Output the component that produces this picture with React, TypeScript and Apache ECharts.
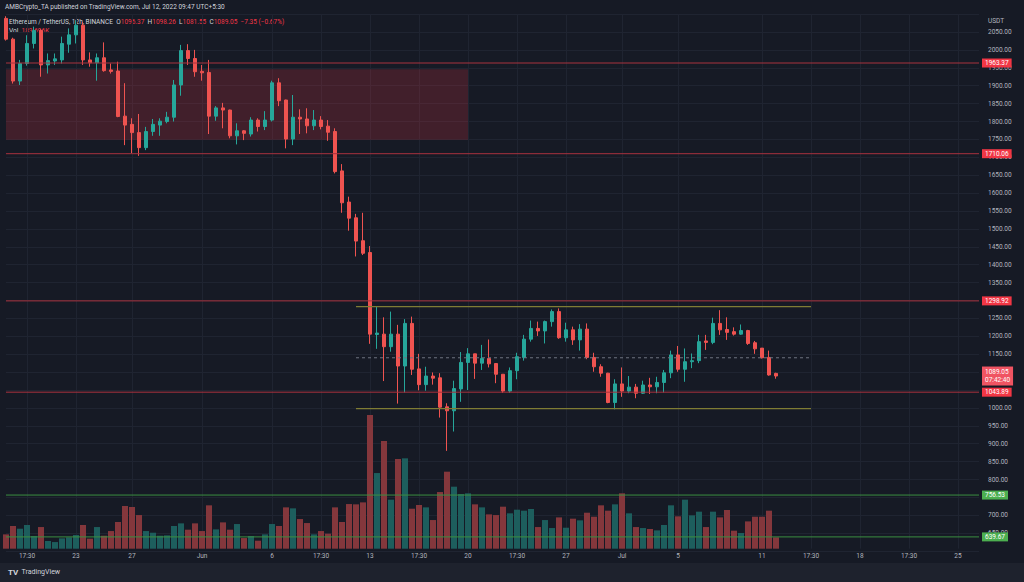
import React, { useEffect, useRef } from "react";
import * as echarts from "echarts";

// ---- axis categories (12h candles, IST) ----
const START_IST = Date.UTC(2022, 4, 18, 5, 30);
const HALF_DAY = 12 * 3600 * 1000;
const SLOT_COUNT = 140;
const categories: string[] = Array.from({ length: SLOT_COUNT }, (_, i) =>
  new Date(START_IST + i * HALF_DAY).toISOString().slice(0, 16)
);

// ---- tick labels ----
const tickDates = [
  "2022-05-19T17:30", "2022-05-23T05:30", "2022-05-27T05:30", "2022-06-01T05:30",
  "2022-06-06T05:30", "2022-06-09T17:30", "2022-06-13T05:30", "2022-06-16T17:30",
  "2022-06-20T05:30", "2022-06-23T17:30", "2022-06-27T05:30", "2022-07-01T05:30",
  "2022-07-05T05:30", "2022-07-11T05:30", "2022-07-14T17:30", "2022-07-18T05:30",
  "2022-07-21T17:30", "2022-07-25T05:30",
];
const tickTexts = [
  "17:30", "23", "27", "Jun", "6", "17:30", "13", "17:30", "20", "17:30", "27", "Jul",
  "5", "11", "17:30", "18", "17:30", "25",
];
// price ticks fully covered by level tags in the reference
const hiddenPriceTicks = [1300, 1050, 750];

// ---- OHLC ----
const opens = [
  2088, 2030, 1913, 1962, 2018, 2054, 1958, 1969, 1972, 2016,
  2042, 2069, 1972, 1964, 1978, 1944, 1941, 1815, 1792, 1769,
  1727, 1772, 1790, 1800, 1812, 1902, 1998, 1976, 1940, 1937,
  1815, 1838, 1832, 1760, 1774, 1765, 1804, 1786, 1804, 1908,
  1860, 1751, 1812, 1807, 1788, 1804, 1787, 1772, 1662, 1575,
  1531, 1467, 1434, 1205, 1206, 1171, 1206, 1117, 1236, 1109,
  1065, 1089, 1084, 1003, 992, 1053, 1127, 1151, 1125, 1138,
  1124, 1094, 1047, 1104, 1141, 1192, 1222, 1215, 1241, 1269,
  1196, 1218, 1190, 1220, 1141, 1115, 1097, 1015, 1067, 1047,
  1058, 1041, 1064, 1059, 1071, 1098, 1148, 1108, 1129, 1132,
  1187, 1183, 1236, 1219, 1213, 1206, 1216, 1182, 1167, 1141,
  1096.37,
];
const closes = [
  2030, 1913, 1962, 2018, 2054, 1958, 1970, 1975, 2018, 2042,
  2069, 1972, 1964, 1978, 1942, 1940, 1814, 1790, 1769, 1727,
  1772, 1792, 1801, 1812, 1902, 1998, 1976, 1939, 1936, 1815,
  1838, 1832, 1760, 1774, 1767, 1804, 1786, 1804, 1908, 1858,
  1751, 1812, 1807, 1788, 1804, 1786, 1770, 1660, 1573, 1530,
  1466, 1432, 1206, 1209, 1171, 1206, 1117, 1236, 1108, 1065,
  1089, 1083, 1002, 992, 1054, 1127, 1151, 1125, 1138, 1123,
  1094, 1047, 1104, 1143, 1192, 1222, 1215, 1241, 1269, 1196,
  1218, 1190, 1220, 1141, 1115, 1097, 1015, 1067, 1047, 1058,
  1041, 1064, 1059, 1071, 1098, 1148, 1108, 1129, 1132, 1185,
  1183, 1236, 1218, 1211, 1206, 1216, 1180, 1165, 1140, 1092,
  1089.05,
];
const lows = [
  2026, 1906, 1902, 1956, 2004, 1925, 1934, 1958, 1962, 1992,
  2018, 1958, 1953, 1914, 1939, 1934, 1812, 1734, 1711, 1704,
  1720, 1760, 1760, 1795, 1800, 1872, 1958, 1925, 1914, 1765,
  1802, 1781, 1753, 1736, 1748, 1758, 1772, 1776, 1800, 1843,
  1725, 1734, 1765, 1767, 1776, 1778, 1746, 1655, 1545, 1495,
  1423, 1427, 1179, 1165, 1075, 1157, 1012, 1043, 1092, 1049,
  1048, 1065, 973, 880, 934, 1017, 1050, 1081, 1106, 1113,
  1069, 1042, 1042, 1080, 1132, 1185, 1201, 1180, 1227, 1193,
  1185, 1176, 1160, 1136, 1101, 1087, 1013, 996, 1031, 1041,
  1027, 1039, 1039, 1041, 1043, 1083, 1101, 1073, 1111, 1125,
  1162, 1178, 1204, 1190, 1202, 1204, 1176, 1151, 1138, 1090,
  1081.55,
];
const highs = [
  2094, 2034, 1972, 2041, 2065, 2058, 1990, 1990, 2037, 2060,
  2083, 2078, 1993, 1990, 2021, 1962, 1967, 1907, 1809, 1821,
  1785, 1807, 1809, 1827, 1916, 2014, 2016, 2000, 1958, 1972,
  1843, 1852, 1833, 1795, 1776, 1812, 1809, 1829, 1914, 1921,
  1861, 1874, 1834, 1837, 1832, 1815, 1804, 1781, 1681, 1590,
  1542, 1545, 1452, 1282, 1253, 1269, 1232, 1248, 1255, 1151,
  1115, 1099, 1097, 1013, 1076, 1156, 1167, 1151, 1176, 1191,
  1125, 1094, 1113, 1154, 1204, 1244, 1241, 1244, 1275, 1278,
  1238, 1227, 1234, 1236, 1154, 1122, 1098, 1080, 1113, 1089,
  1067, 1076, 1084, 1087, 1106, 1160, 1173, 1166, 1152, 1204,
  1204, 1252, 1273, 1253, 1225, 1233, 1218, 1187, 1167, 1160,
  1098.26,
];
// volume in thousands
const volumes = [
  233, 369, 325, 385, 206, 352, 125, 108, 168, 184,
  222, 385, 163, 352, 211, 287, 434, 694, 678, 547,
  287, 260, 211, 217, 369, 412, 309, 412, 287, 705,
  314, 428, 309, 401, 173, 206, 130, 233, 401, 369,
  672, 656, 482, 417, 233, 287, 244, 672, 434, 726,
  721, 753, 2173, 1230, 1751, 797, 1458, 1469, 650, 710,
  672, 466, 921, 1252, 1008, 889, 900, 721, 672, 558,
  547, 683, 575, 634, 618, 645, 352, 466, 336, 509,
  341, 488, 461, 585, 520, 705, 618, 721, 900, 575,
  352, 336, 320, 298, 385, 705, 526, 797, 542, 602,
  352, 602, 509, 629, 293, 255, 444, 520, 520, 618,
  184,
];

// ---- levels ----
const resistanceLevels = [1963.37, 1710.06, 1298.92, 1043.89];
const supportLevels = [756.53, 639.67];
const zoneTop = 1946;
const zoneBottom = 1749;
const zoneStart = "2022-05-18T05:30";
const zoneEnd = "2022-06-20T05:30";
const rangeTop = 1283;
const rangeMid = 1140;
const rangeBottom = 998;
const rangeStart = "2022-06-12T05:30";
const rangeEnd = "2022-07-14T17:30";
const lastPrice = 1089.05;
const countdown = "07:42:40";

const UP = "#26a69a";
const DOWN = "#ef5350";
const UP_VOL = "#1d5e5d";
const DOWN_VOL = "#84373c";
const FONT = "Roboto, 'Noto Sans', sans-serif";
const TXT = "#b2b5be";
const GRIDC = "#1f2431";

export default function App() {
  const ref = useRef<HTMLDivElement>(null);
  useEffect(() => {
    if (!ref.current) return;
    const chart = echarts.init(ref.current, null, { renderer: "svg" });
    const tickMap: Record<string, string> = {};
    tickDates.forEach((d, i) => (tickMap[d] = tickTexts[i]));
    const isTick = (_i: number, v: string) => tickMap[v] !== undefined;

    const candles = opens.map((o, i) => [o, closes[i], lows[i], highs[i]]);
    const volData = volumes.map((v, i) => ({
      value: v,
      itemStyle: { color: closes[i] >= opens[i] ? UP_VOL : DOWN_VOL },
    }));

    const firstCat = categories[0];
    const lastCat = categories[categories.length - 1];

    const tag = (bg: string, text: string) => ({
      show: true,
      distance: 3,
      formatter: text,
      backgroundColor: bg,
      color: "#ffffff",
      fontSize: 6.5,
      fontFamily: FONT,
      lineHeight: 7,
      padding: [1, 3, 1, 3],
    });

    const hLine = (
      from: string,
      to: string,
      value: number,
      color: string,
      width: number,
      type: any,
      endLabel: any
    ) => ({
      type: "line",
      xAxisIndex: 0,
      yAxisIndex: 0,
      data: [
        [from, value],
        [to, value],
      ],
      symbol: "none",
      silent: true,
      z: 4,
      clip: false,
      lineStyle: { color, width, type, opacity: 1 },
      itemStyle: { color },
      emphasis: { disabled: true },
      endLabel: endLabel || { show: false },
    });

    const levelSeries = [
      ...resistanceLevels.map((v) =>
        hLine(firstCat, lastCat, v, "#a8323e", 1, "solid", tag("#f23645", v.toFixed(2)))
      ),
      ...supportLevels.map((v) =>
        hLine(firstCat, lastCat, v, "#3b8e40", 1, "solid", tag("#4caf50", v.toFixed(2)))
      ),
      hLine(rangeStart, rangeEnd, rangeTop, "#7f7c34", 1.2, "solid", null),
      hLine(rangeStart, rangeEnd, rangeBottom, "#7f7c34", 1.2, "solid", null),
      hLine(rangeStart, rangeEnd, rangeMid, "#6f7380", 1, [3, 3], null),
      hLine(firstCat, lastCat, lastPrice, "rgba(0,0,0,0)", 1, "solid", {
        ...tag("#f05462", lastPrice.toFixed(2) + "\n" + countdown),
        lineHeight: 8,
        padding: [2, 3, 1, 3],
      }),
    ];

    const option: any = {
      animation: false,
      backgroundColor: "#161a25",
      grid: [
        { left: 6, right: 45, top: 14.1, height: 537 },
        { left: 6, right: 45, top: 14.1, height: 534.6 },
      ],
      xAxis: [
        { type: "category", gridIndex: 0, data: categories, boundaryGap: false, show: false },
        {
          type: "category",
          gridIndex: 1,
          data: categories,
          boundaryGap: false,
          axisLine: { show: false },
          axisTick: { show: false },
          axisLabel: {
            interval: isTick,
            formatter: (v: string) => tickMap[v] ?? "",
            color: TXT,
            fontSize: 6.5,
            fontFamily: FONT,
            margin: 4,
          },
          splitLine: { show: true, interval: isTick, lineStyle: { color: GRIDC, width: 1 } },
        },
      ],
      yAxis: [
        {
          type: "value",
          gridIndex: 0,
          position: "right",
          min: 600,
          max: 2100,
          interval: 50,
          axisLine: { show: false },
          axisTick: { show: false },
          axisLabel: {
            formatter: (v: number) => (hiddenPriceTicks.includes(v) ? "" : v.toFixed(2)),
            showMinLabel: false,
            showMaxLabel: false,
            color: TXT,
            fontSize: 6.5,
            fontFamily: FONT,
            margin: 9,
          },
          splitLine: { show: true, lineStyle: { color: GRIDC, width: 1 } },
        },
        { type: "value", gridIndex: 1, min: 0, max: 8690, show: false, splitLine: { show: false } },
      ],
      series: [
        {
          type: "bar",
          xAxisIndex: 1,
          yAxisIndex: 1,
          data: volData,
          barWidth: 6,
          z: 1,
          silent: true,
        },
        {
          type: "candlestick",
          xAxisIndex: 0,
          yAxisIndex: 0,
          data: candles,
          barWidth: 4,
          z: 3,
          silent: true,
          itemStyle: { color: UP, color0: DOWN, borderColor: UP, borderColor0: DOWN, borderWidth: 1 },
          markArea: {
            silent: true,
            data: [
              [
                { xAxis: zoneStart, yAxis: zoneTop, itemStyle: { color: "rgba(242,54,69,0.2)" } },
                { xAxis: zoneEnd, yAxis: zoneBottom },
              ],
            ],
          },
        },
        ...levelSeries,
      ],
      graphic: [
        { type: "rect", z: -1, shape: { x: 0, y: 563, width: 1024, height: 19 }, style: { fill: "#1e222d" } },
        {
          type: "text",
          x: 5,
          y: 7,
          style: {
            text: "AMBCrypto_TA published on TradingView.com, Jul 12, 2022 09:47 UTC+5:30",
            fill: "#d1d4dc",
            fontSize: 6.5,
            fontFamily: FONT,
            verticalAlign: "middle",
          },
        },
        {
          type: "text",
          x: 9,
          y: 22,
          style: {
            text:
              "{t|Ethereum / TetherUS, 12h, BINANCE}  {k|O}{v|1096.37}  {k|H}{v|1098.26}  {k|L}{v|1081.55}  {k|C}{v|1089.05}  {v|−7.35 (−0.67%)}",
            verticalAlign: "middle",
            fontSize: 6.5,
            fontFamily: FONT,
            fill: "#d1d4dc",
            rich: {
              t: { fill: "#d1d4dc", color: "#d1d4dc", fontSize: 6.5, fontFamily: FONT },
              k: { fill: "#d1d4dc", color: "#d1d4dc", fontSize: 6.5, fontFamily: FONT },
              v: { fill: "#f23645", color: "#f23645", fontSize: 6.5, fontFamily: FONT },
            },
          },
        },
        {
          type: "text",
          x: 9,
          y: 31,
          style: {
            text: "{k|Vol}  {v|183.696K}",
            verticalAlign: "middle",
            fontSize: 6.5,
            fontFamily: FONT,
            rich: {
              k: { fill: "#d1d4dc", color: "#d1d4dc", fontSize: 6.5, fontFamily: FONT },
              v: { fill: "#f23645", color: "#f23645", fontSize: 6.5, fontFamily: FONT },
            },
          },
        },
        {
          type: "text",
          x: 988,
          y: 21,
          style: { text: "USDT", fill: TXT, fontSize: 6.5, fontFamily: FONT, verticalAlign: "middle" },
        },
        {
          type: "text",
          x: 8,
          y: 572,
          style: {
            text: "{b|TV} {n|TradingView}",
            verticalAlign: "middle",
            rich: {
              b: { fill: "#d1d4dc", color: "#d1d4dc", fontSize: 8, fontWeight: "bold", fontFamily: FONT },
              n: { fill: "#d1d4dc", color: "#d1d4dc", fontSize: 7, fontFamily: FONT },
            },
          },
        },
      ],
    };
    chart.setOption(option);
    return () => chart.dispose();
  }, []);
  return (
    <div
      ref={ref}
      style={{ position: "fixed", left: 0, top: 0, width: 1024, height: 582, background: "#161a25" }}
    />
  );
}
